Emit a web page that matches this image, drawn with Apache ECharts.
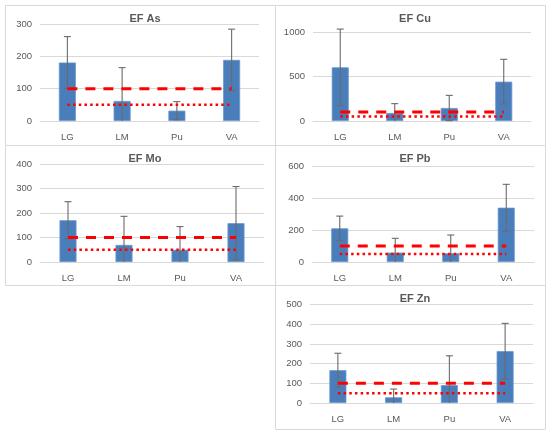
<!DOCTYPE html>
<html>
<head>
<meta charset="utf-8">
<script src="https://cdn.jsdelivr.net/npm/echarts@6/dist/echarts.min.js"></script>
<style>html,body{margin:0;padding:0;background:#fff}#c{width:550px;height:431px}</style>
</head>
<body>
<div id="c"></div>
<script>
const categories = ['LG', 'LM', 'Pu', 'VA'];
const titles = ['EF As', 'EF Cu', 'EF Mo', 'EF Pb', 'EF Zn'];
const asMean = [181, 62, 32, 189];
const asErr = [80, 103, 28, 95];
const cuMean = [603, 90, 146, 442];
const cuErr = [430, 105, 142, 251];
const moMean = [171, 70, 50, 159];
const moErr = [76, 117, 95, 150];
const pbMean = [212, 59, 55, 342];
const pbErr = [77, 90, 115, 147];
const znMean = [167, 29, 91, 264];
const znErr = [86, 42, 149, 141];
const threshold100 = [100, 100, 100, 100];
const threshold50 = [50, 50, 50, 50];
const yMaxes = [300, 1000, 400, 600, 500];
const yIntervals = [100, 500, 100, 200, 100];

const means = [asMean, cuMean, moMean, pbMean, znMean];
const errs = [asErr, cuErr, moErr, pbErr, znErr];

// layout (pixels)
const grids = [
  {left: 40, top: 24, width: 219, height: 97},
  {left: 313, top: 32, width: 218, height: 89},
  {left: 40, top: 164.3, width: 224, height: 97.7},
  {left: 312, top: 166.7, width: 222, height: 95.3},
  {left: 310, top: 304.7, width: 223, height: 98.3}
];
const boxes = [
  [5, 5, 270, 140],
  [275, 5, 270, 140],
  [5, 145, 270, 140],
  [275, 145, 270, 140],
  [275, 285, 270, 144]
];

const chart = echarts.init(document.getElementById('c'), null, {renderer: 'canvas'});

const FONT = '"Liberation Sans", Arial, sans-serif';
const option = {
  backgroundColor: '#fff',
  animation: false,
  graphic: boxes.map(b => ({
    type: 'rect', z: -10, silent: true,
    shape: {x: b[0] + 0.5, y: b[1] + 0.5, width: b[2], height: b[3]},
    style: {fill: '#fff', stroke: '#d9d9d9', lineWidth: 1}
  })),
  title: titles.map((t, i) => ({
    text: t,
    left: boxes[i][0] + boxes[i][2] / 2,
    top: boxes[i][1] + 3,
    textAlign: 'center',
    textStyle: {fontFamily: FONT, fontSize: 11, fontWeight: 'bold', color: '#595959'}
  })),
  grid: grids.map(g => Object.assign({containLabel: false}, g)),
  xAxis: grids.map((g, i) => ({
    type: 'category', gridIndex: i, data: categories,
    axisLine: {show: true, lineStyle: {color: '#d9d9d9', width: 1}},
    axisTick: {show: false},
    axisLabel: {fontFamily: FONT, fontSize: 9.5, color: '#595959', margin: 11}
  })),
  yAxis: grids.map((g, i) => ({
    type: 'value', gridIndex: i, min: 0, max: yMaxes[i], interval: yIntervals[i],
    axisLine: {show: false}, axisTick: {show: false},
    splitLine: {lineStyle: {color: '#d9d9d9', width: 1}},
    axisLabel: {fontFamily: FONT, fontSize: 9.5, color: '#595959', margin: 8,
      formatter: v => String(v)}
  })),
  series: []
};

function errorRender(params, api) {
  const x = api.value(0), m = api.value(1), e = api.value(2);
  const lowVal = Math.max(0, m - e);
  const top = api.coord([x, m + e]);
  const bot = api.coord([x, lowVal]);
  const cap = 3.5;
  const st = {stroke: '#6a6a6a', lineWidth: 1.1};
  const children = [
    {type: 'line', shape: {x1: top[0], y1: top[1], x2: bot[0], y2: bot[1]}, style: st},
    {type: 'line', shape: {x1: top[0] - cap, y1: top[1], x2: top[0] + cap, y2: top[1]}, style: st}
  ];
  if (m - e >= 0) {
    children.push({type: 'line', shape: {x1: bot[0] - cap, y1: bot[1], x2: bot[0] + cap, y2: bot[1]}, style: st});
  }
  return {type: 'group', children: children};
}

for (let i = 0; i < 5; i++) {
  option.series.push({
    type: 'bar', xAxisIndex: i, yAxisIndex: i, data: means[i], barWidth: 17,
    itemStyle: {color: '#4a7ebb', borderColor: '#6b97cc', borderWidth: 0.8}, z: 2
  });
  option.series.push({
    type: 'custom', xAxisIndex: i, yAxisIndex: i, renderItem: errorRender, clip: false,
    data: means[i].map((m, k) => [k, m, errs[i][k]]), encode: {x: 0, y: 1}, z: 3
  });
  option.series.push({
    type: 'line', xAxisIndex: i, yAxisIndex: i, data: threshold100, symbol: 'none', z: 4,
    lineStyle: {color: '#ff0000', width: 3, type: [10, 8], cap: 'butt'}
  });
  option.series.push({
    type: 'line', xAxisIndex: i, yAxisIndex: i, data: threshold50, symbol: 'none', z: 4,
    lineStyle: {color: '#ff0000', width: 2.5, type: [2.5, 3.2], cap: 'butt'}
  });
}

chart.setOption(option);
</script>
</body>
</html>
